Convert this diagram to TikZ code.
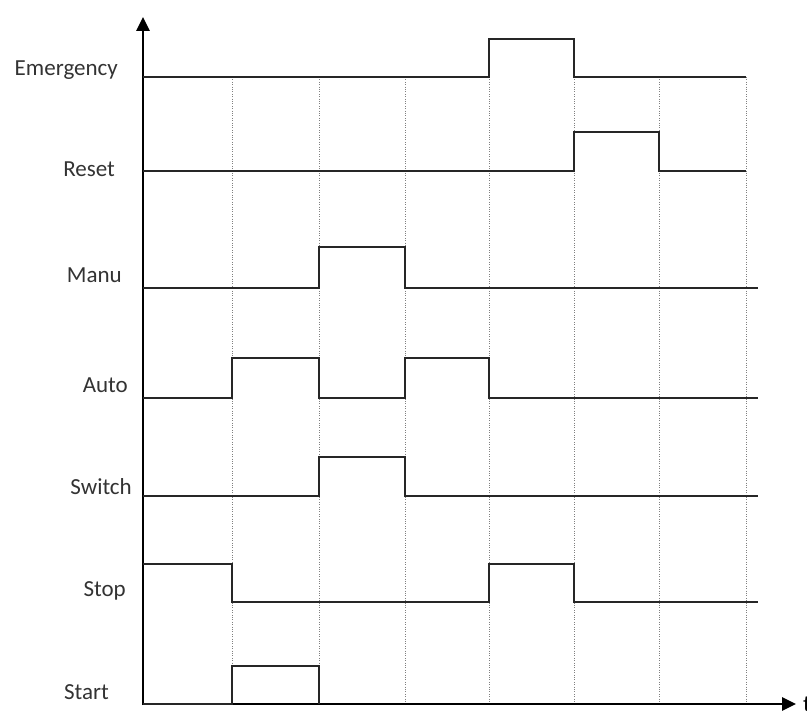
\documentclass[tikz,border=0pt]{standalone}
\usepackage{fontspec}
\setmainfont{Carlito}
\usetikzlibrary{arrows.meta}
\begin{document}
\begin{tikzpicture}[x=1pt,y=-1pt,
  sig/.style={line width=2.7pt, line join=miter, black!85},
  gridline/.style={dash pattern=on 1pt off 1.4pt, line width=1pt, black!50},
  axisline/.style={line width=2.8pt, black, -{Triangle[length=14pt,width=13pt]}},
  lab/.style={anchor=base east, inner sep=0pt, font=\fontsize{23}{27}\selectfont, text=black!80}]
\useasboundingbox (0,0) rectangle (807,711);
% dotted grid
\foreach \x in {232,319,405,489,574,659,746}
  \draw[gridline] (\x,77) -- (\x,704);
% axes
\coordinate (O) at (143,705);
\coordinate (Ytop) at (143,17);
\coordinate (Xend) at (796,704);
\draw[axisline] (O) -- (Ytop);
\draw[axisline] (142,704) -- (Xend);
\node[anchor=west, inner sep=0pt, font=\fontsize{23}{27}\selectfont] (tlab) at (803,704) {t};
% signals
\draw[sig] (143,77) -- (489,77) -- (489,39) -- (574,39) -- (574,77) -- (746,77);
\draw[sig] (143,171) -- (574,171) -- (574,132) -- (659,132) -- (659,171) -- (746,171);
\draw[sig] (143,288) -- (319,288) -- (319,247) -- (405,247) -- (405,288) -- (758,288);
\draw[sig] (143,398) -- (232,398) -- (232,358) -- (319,358) -- (319,398) -- (405,398) -- (405,358) -- (489,358) -- (489,398) -- (758,398);
\draw[sig] (143,496) -- (319,496) -- (319,457) -- (405,457) -- (405,496) -- (758,496);
\draw[sig] (143,564) -- (232,564) -- (232,602) -- (489,602) -- (489,564) -- (574,564) -- (574,602) -- (758,602);
\draw[sig] (143,704) -- (232,704) -- (232,666) -- (319,666) -- (319,704);
% labels
\node[lab] (emergency) at (118,76) {Emergency};
\node[lab] (reset) at (115,177) {Reset};
\node[lab] (manu) at (122,283) {Manu};
\node[lab] (auto) at (128,393) {Auto};
\node[lab] (switch) at (132,495) {Switch};
\node[lab] (stop) at (126,597) {Stop};
\node[lab] (start) at (109,699) {Start};
\end{tikzpicture}
\end{document}
